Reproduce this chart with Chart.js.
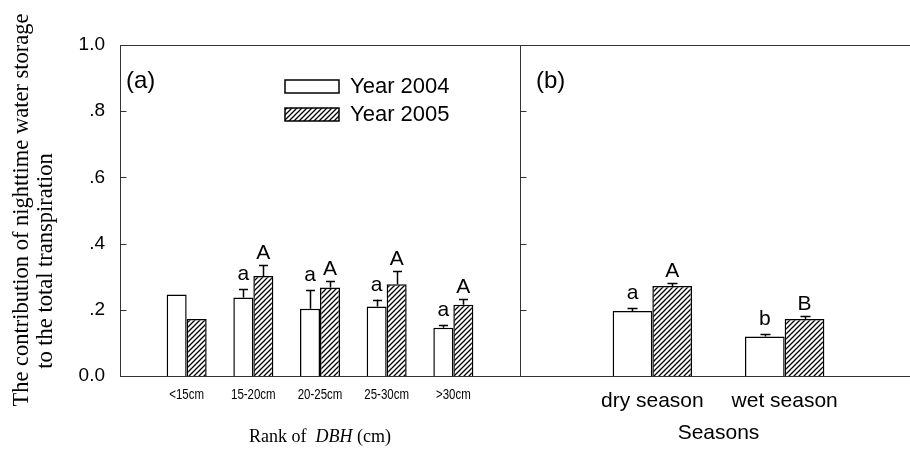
<!DOCTYPE html>
<html>
<head>
<meta charset="utf-8">
<title>Nighttime water storage contribution</title>
<script src="https://cdn.jsdelivr.net/npm/chart.js@4.4.0/dist/chart.umd.min.js"></script>
<style>
  html, body { margin: 0; padding: 0; background: #fff; overflow: hidden; }
  #wrap { position: relative; width: 910px; height: 453px; overflow: hidden; }
  #wrap canvas { position: absolute; left: 0; top: 0; }
</style>
</head>
<body>
<div id="wrap">
  <canvas id="chartA" width="930" height="453" style="width:930px;height:453px"></canvas>
  <canvas id="chartB" width="930" height="453" style="width:930px;height:453px"></canvas>
</div>
<script>
// (a) contribution by DBH class
var dbhClasses = ['<15cm', '15-20cm', '20-25cm', '25-30cm', '>30cm'];
var dbh2004 = [0.246, 0.237, 0.203, 0.210, 0.146];
var dbh2004Err = [0, 0.025, 0.056, 0.021, 0.007];
var dbh2005 = [0.172, 0.302, 0.267, 0.277, 0.215];
var dbh2005Err = [0, 0.033, 0.019, 0.040, 0.018];
var dbh2004Letters = ['', 'a', 'a', 'a', 'a'];
var dbh2005Letters = ['', 'A', 'A', 'A', 'A'];

// (b) contribution by season
var seasons = ['dry season', 'wet season'];
var season2004 = [0.196, 0.119];
var season2004Err = [0.008, 0.009];
var season2005 = [0.272, 0.172];
var season2005Err = [0.009, 0.008];
var season2004Letters = ['a', 'b'];
var season2005Letters = ['A', 'B'];

var yTickLabels = ['0.0', '.2', '.4', '.6', '.8', '1.0'];

var SANS = "'Liberation Sans', Arial, sans-serif";
var SERIF = "'Liberation Serif', 'Times New Roman', serif";
var AXIS = '#333';

// empty slot on each side so the groups sit at 1..n of an axis running 0..n+1
function pad(arr, fill) {
  return [fill].concat(arr, [fill]);
}

function makeHatch() {
  var c = document.createElement('canvas');
  c.width = 5; c.height = 5;
  var g = c.getContext('2d');
  g.fillStyle = '#fff';
  g.fillRect(0, 0, 5, 5);
  g.strokeStyle = '#000';
  g.lineWidth = 1.3;
  g.beginPath();
  g.moveTo(-1, 6); g.lineTo(6, -1);
  g.moveTo(-1, 1); g.lineTo(1, -1);
  g.moveTo(4, 6); g.lineTo(6, 4);
  g.stroke();
  return g.createPattern(c, 'repeat');
}
var hatch = makeHatch();

function hline(ctx, x1, x2, y) {
  y = Math.round(y) + 0.5;
  ctx.beginPath(); ctx.moveTo(x1, y); ctx.lineTo(x2, y); ctx.stroke();
}

// frame top, inward ticks, upper error bars and letters
var panelPlugin = {
  id: 'panel',
  afterDatasetsDraw: function(chart, args, opts) {
    var ctx = chart.ctx, area = chart.chartArea, ys = chart.scales.y;
    ctx.save();
    ctx.strokeStyle = AXIS;
    ctx.lineWidth = 1;
    hline(ctx, area.left, chart.width, area.top);
    var lx = Math.round(area.left) + 0.5;
    ys.ticks.forEach(function(t) {
      if (t.value <= 0 || t.value >= 1) return;
      hline(ctx, lx, lx + 6, ys.getPixelForValue(t.value));
    });

    chart.data.datasets.forEach(function(ds, i) {
      var meta = chart.getDatasetMeta(i);
      meta.data.forEach(function(bar, j) {
        var v = ds.data[j];
        if (v === null) return;
        var err = ds.errors[j];
        var top = ys.getPixelForValue(v + err);
        if (err > 0) {
          ctx.strokeStyle = '#000';
          ctx.lineWidth = 1.5;
          var x = Math.round(bar.x) + 0.5;
          ctx.beginPath();
          ctx.moveTo(x, bar.y);
          ctx.lineTo(x, top);
          ctx.moveTo(x - opts.cap, Math.round(top) + 0.5);
          ctx.lineTo(x + opts.cap, Math.round(top) + 0.5);
          ctx.stroke();
        }
        var letter = ds.letters[j];
        if (letter) {
          ctx.fillStyle = '#000';
          ctx.font = '21px ' + SANS;
          ctx.textAlign = 'center';
          ctx.textBaseline = 'alphabetic';
          ctx.fillText(letter, bar.x, top - (letter === letter.toUpperCase() ? 6 : 9));
        }
      });
    });

    ctx.fillStyle = '#000';
    ctx.textBaseline = 'middle';
    ctx.textAlign = 'left';
    ctx.font = '24px ' + SANS;
    ctx.fillText(opts.tag, area.left + opts.tagX, area.top + 36);
    ctx.restore();
  }
};

// narrow DBH class labels, legend, y title and x title of panel (a)
var textPlugin = {
  id: 'texts',
  afterDraw: function(chart) {
    var ctx = chart.ctx, area = chart.chartArea, xs = chart.scales.x;
    ctx.save();
    ctx.fillStyle = '#000';

    // class labels, horizontally condensed
    ctx.font = '14px ' + SANS;
    ctx.textAlign = 'center';
    ctx.textBaseline = 'middle';
    chart.data.labels.forEach(function(lab, i) {
      if (!lab) return;
      ctx.save();
      ctx.translate(xs.getPixelForTick(i), 395);
      ctx.scale(0.82, 1);
      ctx.fillText(lab, 0, 0);
      ctx.restore();
    });

    // legend
    var lx = area.left + 165, ly = area.top + 35;
    chart.data.datasets.forEach(function(ds, i) {
      var y = ly + i * 28;
      ctx.fillStyle = ds.backgroundColor;
      ctx.fillRect(lx, y, 54, 13);
      ctx.strokeStyle = '#000';
      ctx.lineWidth = 1.5;
      ctx.strokeRect(lx, y, 54, 13);
      ctx.fillStyle = '#000';
      ctx.font = '22px ' + SANS;
      ctx.textAlign = 'left';
      ctx.textBaseline = 'middle';
      ctx.fillText(ds.label, lx + 65, y + 7);
    });

    // y axis title, two rotated lines
    ctx.font = '22.5px ' + SERIF;
    ctx.textAlign = 'center';
    ctx.textBaseline = 'middle';
    ctx.save();
    ctx.translate(22, 210);
    ctx.rotate(-Math.PI / 2);
    ctx.fillText('The contribution of nighttime water storage', 0, 0);
    ctx.restore();
    ctx.save();
    ctx.translate(46, 261);
    ctx.rotate(-Math.PI / 2);
    ctx.fillText('to the total transpiration', 0, 0);
    ctx.restore();

    // x axis title with italic DBH
    var parts = [['Rank of  ', ''], ['DBH', 'italic '], [' (cm)', '']];
    var widths = parts.map(function(p) {
      ctx.font = p[1] + '18px ' + SERIF;
      return ctx.measureText(p[0]).width;
    });
    var total = widths.reduce(function(a, b) { return a + b; }, 0);
    var x = (area.left + area.right) / 2 - total / 2;
    ctx.textAlign = 'left';
    parts.forEach(function(p, i) {
      ctx.font = p[1] + '18px ' + SERIF;
      ctx.fillText(p[0], x, 437);
      x += widths[i];
    });
    ctx.restore();
  }
};

var seasonTitle = {
  id: 'seasonTitle',
  afterDraw: function(chart) {
    var ctx = chart.ctx, area = chart.chartArea;
    ctx.save();
    ctx.fillStyle = '#000';
    ctx.font = '21px ' + SANS;
    ctx.textAlign = 'center';
    ctx.textBaseline = 'middle';
    ctx.fillText('Seasons', (area.left + area.right) / 2, 433);
    ctx.restore();
  }
};

function barSet(label, values, errs, letters, fill) {
  return {
    label: label,
    data: pad(values, null),
    errors: pad(errs, 0),
    letters: pad(letters, ''),
    backgroundColor: fill,
    borderColor: '#000',
    borderWidth: 1.5,
    borderSkipped: 'start',
    categoryPercentage: 0.6,
    barPercentage: 1
  };
}

function scalesFor(showX, tickPad, yWidth, showY) {
  return {
    x: {
      offset: false,
      grid: { display: false, drawTicks: false },
      border: { display: true, color: AXIS, width: 1 },
      ticks: { display: showX, color: '#000', font: { family: SANS, size: 21 }, padding: tickPad, autoSkip: false, maxRotation: 0 },
      afterFit: function(s) { s.height = 77; }
    },
    y: {
      min: 0,
      max: 1,
      grid: { display: false, drawTicks: false },
      border: { display: true, color: AXIS, width: 1 },
      ticks: {
        display: showY,
        stepSize: 0.2,
        padding: 15,
        color: '#000',
        font: { family: SANS, size: 19 },
        callback: function(v, i) { return yTickLabels[i]; }
      },
      afterFit: function(s) { s.width = yWidth; }
    }
  };
}

new Chart(document.getElementById('chartA'), {
  type: 'bar',
  data: {
    labels: pad(dbhClasses, ''),
    datasets: [
      barSet('Year 2004', dbh2004, dbh2004Err, dbh2004Letters, '#fff'),
      barSet('Year 2005', dbh2005, dbh2005Err, dbh2005Letters, hatch)
    ]
  },
  options: {
    responsive: false,
    animation: false,
    layout: { padding: { left: 0, right: 410, top: 45, bottom: 0 } },
    plugins: {
      legend: { display: false },
      tooltip: { enabled: false },
      panel: { tag: '(a)', tagX: 6, cap: 4.5 }
    },
    scales: scalesFor(false, 11, 120, true)
  },
  plugins: [panelPlugin, textPlugin]
});

new Chart(document.getElementById('chartB'), {
  type: 'bar',
  data: {
    labels: pad(seasons, ''),
    datasets: [
      barSet('Year 2004', season2004, season2004Err, season2004Letters, '#fff'),
      barSet('Year 2005', season2005, season2005Err, season2005Letters, hatch)
    ]
  },
  options: {
    responsive: false,
    animation: false,
    layout: { padding: { left: 520, right: 10, top: 45, bottom: 0 } },
    plugins: {
      legend: { display: false },
      tooltip: { enabled: false },
      panel: { tag: '(b)', tagX: 16, cap: 5 }
    },
    scales: scalesFor(true, 13, 0, false)
  },
  plugins: [panelPlugin, seasonTitle]
});
</script>
</body>
</html>
